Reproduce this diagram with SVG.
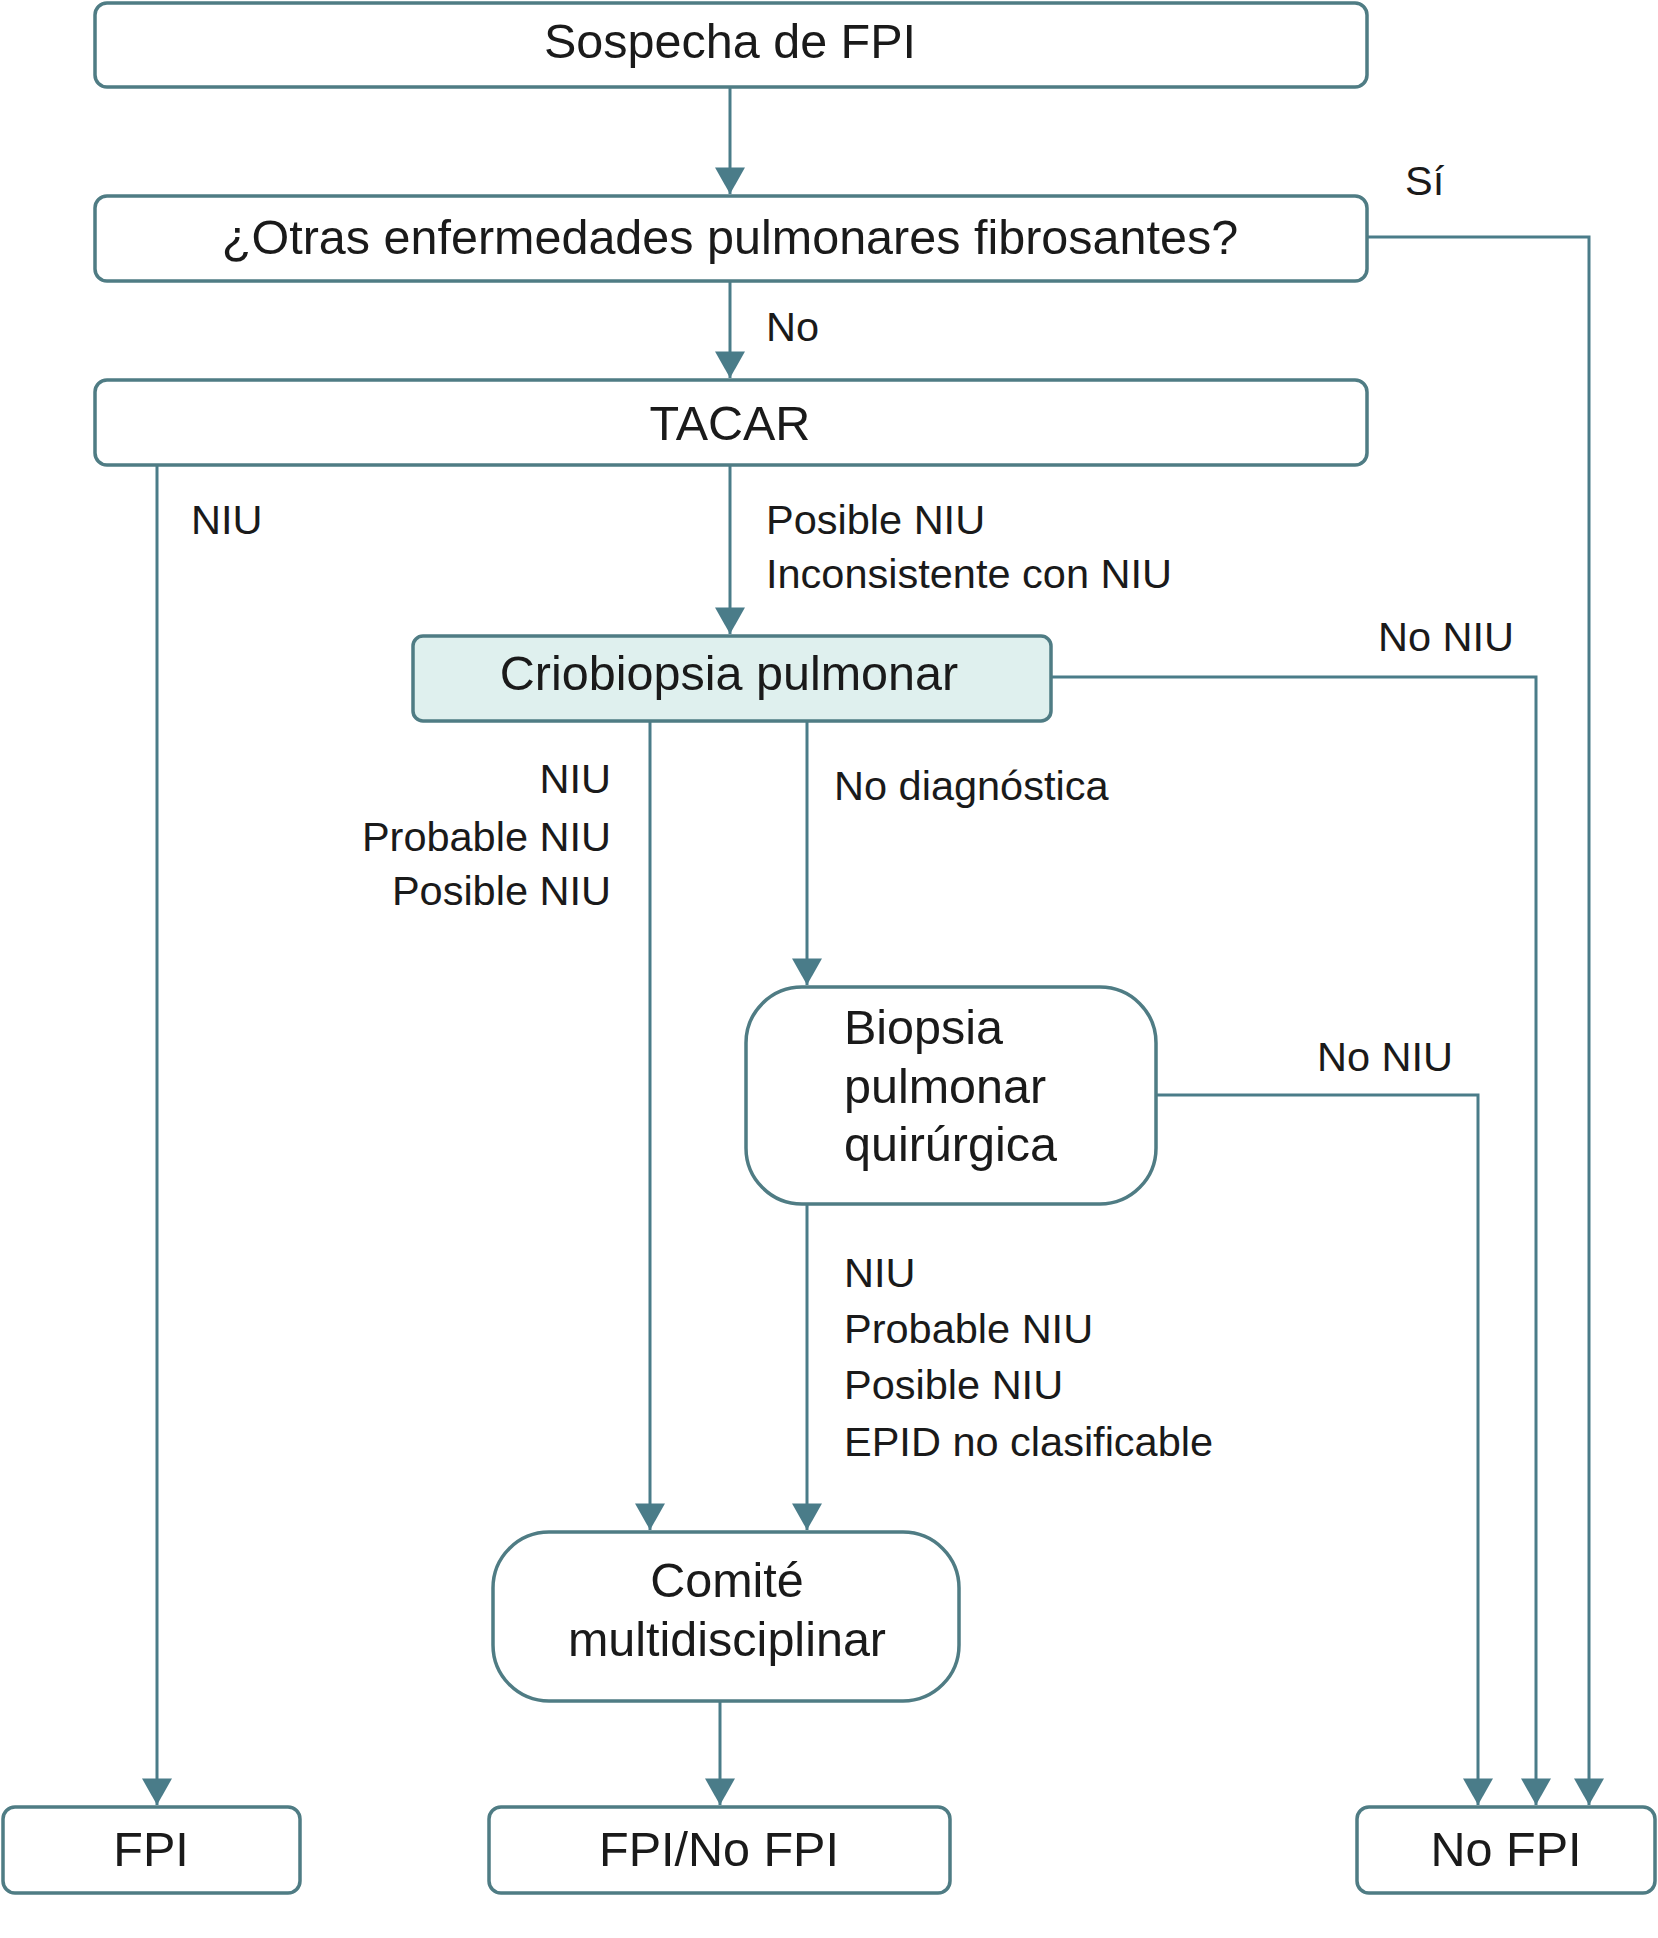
<svg xmlns="http://www.w3.org/2000/svg" width="1658" height="1938" viewBox="0 0 1658 1938">
<style>
.box{fill:#ffffff;stroke:#4f7c84;stroke-width:3.5}
.crio{fill:#dff0ee;stroke:#4f7c84;stroke-width:3.5}
.t{font-family:"Liberation Sans",Arial,sans-serif;font-size:48.5px;fill:#1a1a1a;text-anchor:middle}
.tl{font-family:"Liberation Sans",Arial,sans-serif;font-size:48.5px;fill:#1a1a1a}
.lab{font-family:"Liberation Sans",Arial,sans-serif;font-size:41.5px;fill:#1a1a1a}
.labr{font-family:"Liberation Sans",Arial,sans-serif;font-size:41.5px;fill:#1a1a1a;text-anchor:end}
.c{fill:none;stroke:#4a7c89;stroke-width:3;marker-end:url(#ah)}
</style>
<defs>
<marker id="ah" markerUnits="userSpaceOnUse" markerWidth="34" markerHeight="30" refX="30" refY="17" orient="auto" viewBox="0 0 30 34">
<path d="M0,0 L30,17 L0,34 Z" fill="#4a7c89"/>
</marker>
</defs>
<rect width="1658" height="1938" fill="#ffffff"/>
<g id="connectors">
<path class="c" d="M730,87 V194"/>
<path class="c" d="M1367,237 H1589 V1805"/>
<path class="c" d="M730,281 V378"/>
<path class="c" d="M157,465 V1805"/>
<path class="c" d="M730,465 V634"/>
<path class="c" d="M1051,677 H1536 V1805"/>
<path class="c" d="M650,721 V1530"/>
<path class="c" d="M807,721 V985"/>
<path class="c" d="M1156,1095 H1478 V1805"/>
<path class="c" d="M807,1204 V1530"/>
<path class="c" d="M720,1701 V1805"/>
</g>
<g id="labels">
<text class="lab" x="1405" y="195">Sí</text>
<text class="lab" x="766" y="341">No</text>
<text class="lab" x="191" y="534">NIU</text>
<text class="lab" x="766" y="534">Posible NIU</text>
<text class="lab" x="766" y="588">Inconsistente con NIU</text>
<text class="lab" x="1378" y="651">No NIU</text>
<text class="labr" x="611" y="793">NIU</text>
<text class="labr" x="611" y="851">Probable NIU</text>
<text class="labr" x="611" y="905">Posible NIU</text>
<text class="lab" x="834" y="800">No diagnóstica</text>
<text class="lab" x="1317" y="1071">No NIU</text>
<text class="lab" x="844" y="1287">NIU</text>
<text class="lab" x="844" y="1343">Probable NIU</text>
<text class="lab" x="844" y="1399">Posible NIU</text>
<text class="lab" x="844" y="1456">EPID no clasificable</text>
</g>
<g id="n1"><rect class="box" x="95" y="3" width="1272" height="84" rx="12"/><text class="t" x="730" y="58">Sospecha de FPI</text></g>
<g id="n2"><rect class="box" x="95" y="196" width="1272" height="85" rx="12"/><text class="t" x="730" y="254">¿Otras enfermedades pulmonares fibrosantes?</text></g>
<g id="n3"><rect class="box" x="95" y="380" width="1272" height="85" rx="12"/><text class="t" x="730" y="440">TACAR</text></g>
<g id="n4"><rect class="crio" x="413" y="636" width="638" height="85" rx="10"/><text class="t" x="729" y="690">Criobiopsia pulmonar</text></g>
<g id="n5"><rect class="box" x="746" y="987" width="410" height="217" rx="56"/><text class="tl" x="844" y="1044">Biopsia</text><text class="tl" x="844" y="1103">pulmonar</text><text class="tl" x="844" y="1161">quirúrgica</text></g>
<g id="n6"><rect class="box" x="493" y="1532" width="466" height="169" rx="56"/><text class="t" x="727" y="1597">Comité</text><text class="t" x="727" y="1656">multidisciplinar</text></g>
<g id="n7"><rect class="box" x="3" y="1807" width="297" height="86" rx="12"/><text class="t" x="151" y="1866">FPI</text></g>
<g id="n8"><rect class="box" x="489" y="1807" width="461" height="86" rx="12"/><text class="t" x="719" y="1866">FPI/No FPI</text></g>
<g id="n9"><rect class="box" x="1357" y="1807" width="298" height="86" rx="12"/><text class="t" x="1506" y="1866">No FPI</text></g>
</svg>
